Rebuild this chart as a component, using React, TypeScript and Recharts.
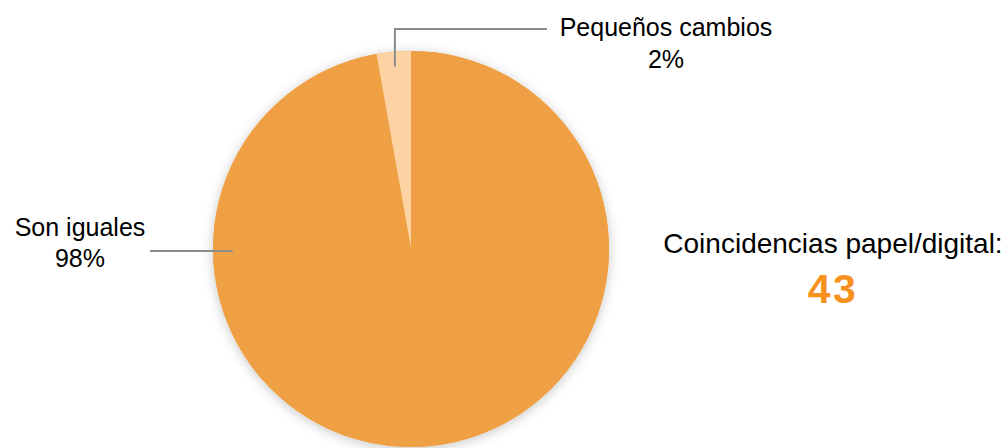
import React from "react";
import { PieChart, Pie, Cell } from "recharts";

const categories = ["Pequeños cambios", "Son iguales"];
const values = [2.8, 97.2];
const percentLabels = ["2%", "98%"];
const colors = ["#FDD3A3", "#EFA044"];
const summaryTitle = "Coincidencias papel/digital:";
const summaryValue = "43";

const data = categories.map((name, i) => ({ name, value: values[i], pct: percentLabels[i] }));

const FONT = "'Liberation Sans', Arial, Helvetica, sans-serif";
const RAD = Math.PI / 180;

const renderLabel = (props: any) => {
  const { cx, cy, outerRadius, midAngle, index } = props;
  const R = outerRadius;
  if (index === 0) {
    const r = R * 0.925;
    const x0 = cx + r * Math.cos(-midAngle * RAD);
    const y0 = cy + r * Math.sin(-midAngle * RAD);
    const yTop = cy - R - 22;
    const xEnd = cx + 136;
    const tx = cx + 255;
    return (
      <g key="lbl0">
        <polyline points={`${x0},${y0} ${x0},${yTop} ${xEnd},${yTop}`} fill="none" stroke="#8C8C8C" strokeWidth={2} />
        <text x={tx} y={cy - R - 15} textAnchor="middle" fontFamily={FONT} fontSize={25} fill="#000">{data[0].name}</text>
        <text x={tx} y={cy - R + 17} textAnchor="middle" fontFamily={FONT} fontSize={25} fill="#000">{data[0].pct}</text>
      </g>
    );
  }
  const r = R * 0.9;
  const x0 = cx - r;
  const y0 = cy + 2;
  const xEnd = cx - R - 63;
  const tx = cx - R - 133;
  return (
    <g key="lbl1">
      <line x1={x0} y1={y0} x2={xEnd} y2={y0} stroke="#8C8C8C" strokeWidth={2} />
      <text x={tx} y={cy - 13} textAnchor="middle" fontFamily={FONT} fontSize={25} fill="#000">{data[1].name}</text>
      <text x={tx} y={cy + 18} textAnchor="middle" fontFamily={FONT} fontSize={25} fill="#000">{data[1].pct}</text>
    </g>
  );
};

export default function App() {
  return (
    <div style={{ position: "absolute", left: 0, top: 0, width: 1006, height: 448, background: "#fff" }}>
      <PieChart width={1006} height={448} margin={{ top: 0, right: 0, bottom: 0, left: 0 }}>
        <defs>
          <filter id="pieShadow" x="-20%" y="-20%" width="140%" height="140%">
            <feDropShadow dx="0" dy="2" stdDeviation="6" floodColor="#000" floodOpacity="0.22" />
          </filter>
        </defs>
        <Pie
          data={data}
          dataKey="value"
          nameKey="name"
          cx={411}
          cy={249}
          innerRadius={0}
          outerRadius={198}
          startAngle={90}
          endAngle={450}
          stroke="none"
          label={false}
          labelLine={false}
          isAnimationActive={false}
        >
          {data.map((d) => (
            <Cell key={"s" + d.name} fill={colors[1]} filter="url(#pieShadow)" />
          ))}
        </Pie>
        <Pie
          data={data}
          dataKey="value"
          nameKey="name"
          cx={411}
          cy={249}
          innerRadius={0}
          outerRadius={198}
          startAngle={90}
          endAngle={450}
          stroke="none"
          label={renderLabel}
          labelLine={false}
          isAnimationActive={false}
        >
          {data.map((d, i) => (
            <Cell key={d.name} fill={colors[i]} />
          ))}
        </Pie>
      </PieChart>
      <svg width={1006} height={448} style={{ position: "absolute", left: 0, top: 0, pointerEvents: "none" }}>
        <text x={833} y={253} textAnchor="middle" fontFamily={FONT} fontSize={28} fill="#000">{summaryTitle}</text>
        <text x={833} y={303} textAnchor="middle" fontFamily={FONT} fontSize={41} fontWeight="bold" fill="#F7921E" letterSpacing={2.5}>{summaryValue}</text>
      </svg>
    </div>
  );
}
